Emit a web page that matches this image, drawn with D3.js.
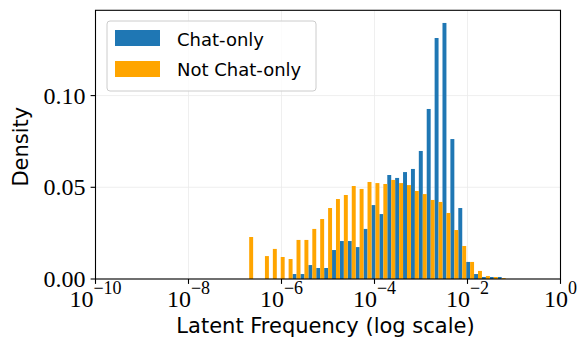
<!DOCTYPE html>
<html>
<head>
<meta charset="utf-8">
<script src="https://cdn.jsdelivr.net/npm/d3@7"></script>
<style>
  html, body { margin: 0; padding: 0; background: #fff; }
  svg { display: block; }
</style>
</head>
<body>
<svg id="chart" width="587" height="357"></svg>
<script>
// ---- data ----
// log10 of histogram bin edges (34 edges -> 33 bins)
const logBinEdges = [-6.780, -6.610, -6.441, -6.271, -6.101, -5.932, -5.762, -5.592, -5.422, -5.253,
  -5.083, -4.913, -4.744, -4.574, -4.404, -4.235, -4.065, -3.895, -3.725, -3.556,
  -3.386, -3.216, -3.047, -2.877, -2.707, -2.538, -2.368, -2.198, -2.028, -1.859,
  -1.689, -1.519, -1.350, -1.180];
const seriesNames = ["Chat-only", "Not Chat-only"];
const chatOnly = [0, 0, 0, 0, 0, 0, 0.0027, 0.0027, 0.0076, 0.0060, 0.0060, 0.0158, 0.0207, 0.0207,
  0.0174, 0.0273, 0.0403, 0.0354, 0.0567, 0.0551, 0.0583, 0.0600, 0.0698, 0.0927, 0.1314,
  0.1396, 0.0763, 0.0387, 0.0093, 0.0027, 0.0011, 0.0011, 0.0011];
const notChatOnly = [0.0229, 0, 0.0125, 0.0164, 0.0120, 0.0109, 0.0213, 0.0213, 0.0273, 0.0327,
  0.0387, 0.0436, 0.0458, 0.0507, 0.0491, 0.0529, 0.0523, 0.0518, 0.0540, 0.0523, 0.0512,
  0.0480, 0.0463, 0.0431, 0.0420, 0.0360, 0.0267, 0.0180, 0.0093, 0.0044, 0.0016, 0.0011, 0.0005];
const xTickExps = [-10, -8, -6, -4, -2, 0];
const yTicks = [0.00, 0.05, 0.10];
const colors = ["#1f77b4", "#ffa500"];

// ---- layout ----
const svg = d3.select("#chart");
const L = 95.5, R = 560.5, T = 10.3, B = 279;
const x = d3.scaleLog().domain([1e-10, 1]).range([L, R]);
const y = d3.scaleLinear().domain([0, 0.1465]).range([B, T]);

// grid
const grid = svg.append("g").attr("stroke", "#ebebeb").attr("stroke-width", 0.8);
grid.selectAll("line.v").data(xTickExps).join("line")
  .attr("x1", d => x(Math.pow(10, d))).attr("x2", d => x(Math.pow(10, d)))
  .attr("y1", T).attr("y2", B);
grid.selectAll("line.h").data(yTicks).join("line")
  .attr("x1", L).attr("x2", R)
  .attr("y1", d => y(d)).attr("y2", d => y(d));

// bars
const bins = d3.range(logBinEdges.length - 1).map(i => ({
  lo: Math.pow(10, logBinEdges[i]),
  mid: Math.pow(10, (logBinEdges[i] + logBinEdges[i + 1]) / 2),
  hi: Math.pow(10, logBinEdges[i + 1]),
  v: [chatOnly[i], notChatOnly[i]]
}));
[0, 1].forEach(s => {
  svg.append("g").selectAll("rect")
    .data(bins.filter(b => b.v[s] > 0)).join("rect")
    .attr("x", b => x(s === 0 ? b.lo : b.mid))
    .attr("width", b => x(s === 0 ? b.mid : b.hi) - x(s === 0 ? b.lo : b.mid))
    .attr("y", b => y(b.v[s]))
    .attr("height", b => y(0) - y(b.v[s]))
    .attr("fill", colors[s]);
});

// spines
svg.append("rect").attr("x", L).attr("y", T).attr("width", R - L).attr("height", B - T)
  .attr("fill", "none").attr("stroke", "#000").attr("stroke-width", 1.1);

// x ticks
const xt = svg.append("g");
xTickExps.forEach(e => {
  const px = x(Math.pow(10, e));
  xt.append("line").attr("x1", px).attr("x2", px).attr("y1", B).attr("y2", B + 4.9)
    .attr("stroke", "#000").attr("stroke-width", 1.1);
  const t = xt.append("text").attr("x", px).attr("y", 307)
    .attr("text-anchor", "middle")
    .attr("font-family", "'Liberation Serif', 'Times New Roman', serif")
    .attr("font-size", 24).attr("fill", "#000");
  t.append("tspan").text("10");
  t.append("tspan").attr("dy", -13.5).attr("font-size", 18)
    .text(e < 0 ? "\u2212" + Math.abs(e) : String(e));
});

// y ticks
const yt = svg.append("g");
yTicks.forEach(v => {
  const py = y(v);
  yt.append("line").attr("x1", L - 4.9).attr("x2", L).attr("y1", py).attr("y2", py)
    .attr("stroke", "#000").attr("stroke-width", 1.1);
  yt.append("text").attr("x", 85.5).attr("y", py).attr("dy", "0.33em")
    .attr("text-anchor", "end")
    .attr("font-family", "'Liberation Serif', 'Times New Roman', serif")
    .attr("font-size", 24).attr("fill", "#000")
    .text(v.toFixed(2));
});

// axis labels
svg.append("text").attr("x", (L + R) / 2 - 2.5).attr("y", 333)
  .attr("text-anchor", "middle")
  .attr("font-family", "'DejaVu Sans', sans-serif").attr("font-size", 21)
  .text("Latent Frequency (log scale)");
svg.append("text").attr("transform", `translate(28, ${(T + B) / 2 + 2}) rotate(-90)`)
  .attr("text-anchor", "middle")
  .attr("font-family", "'DejaVu Sans', sans-serif").attr("font-size", 21)
  .text("Density");

// legend
const lg = svg.append("g");
lg.append("rect").attr("x", 107).attr("y", 21).attr("width", 209).attr("height", 70)
  .attr("rx", 3).attr("fill", "#fff").attr("fill-opacity", 0.8)
  .attr("stroke", "#cccccc").attr("stroke-width", 1);
seriesNames.forEach((n, i) => {
  lg.append("rect").attr("x", 115).attr("y", 30 + i * 31).attr("width", 45).attr("height", 16)
    .attr("fill", colors[i]);
  lg.append("text").attr("x", 177).attr("y", 45.7 + i * 30.5)
    .attr("font-family", "'DejaVu Sans', sans-serif").attr("font-size", 18)
    .text(n);
});
</script>
</body>
</html>
